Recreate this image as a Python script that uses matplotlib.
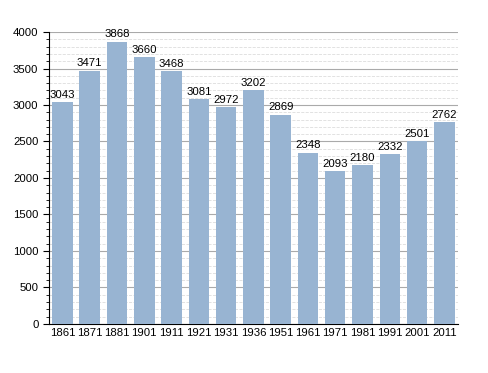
#!/usr/bin/env python3

import numpy as np
import matplotlib.pyplot as plt
from matplotlib.ticker import MultipleLocator

years = ["1861", "1871", "1881", "1901", "1911", "1921", "1931", "1936",
         "1951", "1961", "1971", "1981", "1991", "2001", "2011"]
population = [3043, 3471, 3868, 3660, 3468, 3081, 2972, 3202,
              2869, 2348, 2093, 2180, 2332, 2501, 2762]

plt.rcParams['font.family'] = ['Liberation Sans', 'DejaVu Sans']
FS = 8.2

fig = plt.figure(figsize=(4.88, 3.73), dpi=100)
ax = fig.add_axes([0.100, 0.1314, 0.8385, 0.7828])

x = np.arange(len(years))
ax.bar(x, population, width=0.75, color="#98b4d2", zorder=3)
for xi, v in zip(x, population):
    ax.text(xi, v + 30, str(v), ha="center", va="bottom", fontsize=FS, zorder=4)

ax.set_xlim(-0.5, len(years) - 0.5)
ax.set_ylim(0, 4000)
ax.set_xticks(x)
ax.set_xticklabels(years, fontsize=FS)
ax.yaxis.set_major_locator(MultipleLocator(500))
ax.yaxis.set_minor_locator(MultipleLocator(100))
ax.tick_params(axis="y", labelsize=FS, length=4, width=0.8, direction="out")
ax.tick_params(axis="y", which="minor", length=2, width=0.6)
ax.tick_params(axis="x", length=0, pad=3)

ax.grid(axis="y", which="major", color="#aaaaaa", linewidth=0.8, zorder=0)
ax.grid(axis="y", which="minor", color="#dddddd", linewidth=0.6, linestyle="--", zorder=0)
ax.spines["top"].set_visible(False)
ax.spines["right"].set_visible(False)

plt.savefig("out.png", dpi=100)
